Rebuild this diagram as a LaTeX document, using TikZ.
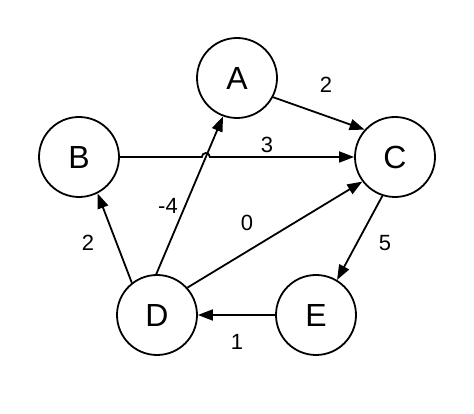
\documentclass[tikz,border=0pt]{standalone}
\usepackage{fontspec}
\setmainfont{Liberation Sans}
\usetikzlibrary{arrows.meta,calc}
\begin{document}
\begin{tikzpicture}[x=1pt,y=1pt,
  vertex/.style={circle,draw=black,line width=1.8pt,minimum size=80pt,inner sep=0pt,font=\fontsize{32}{32}\selectfont},
  edge/.style={line width=1.8pt,-{Triangle[length=15pt,width=11pt]}},
  wlabel/.style={font=\fontsize{22}{22}\selectfont,inner sep=0pt}]
\useasboundingbox (0,0) rectangle (474,414);
\node[vertex] (A) at (237,336) {A};
\node[vertex] (B) at (79,257) {B};
\node[vertex] (C) at (395,257) {C};
\node[vertex] (D) at (157,99) {D};
\node[vertex] (E) at (316,99) {E};
\coordinate (hop) at (intersection of D.91--A.250 and B.east--C.west);
\draw[edge] (A.332) -- (C.138);
\draw[edge] (B.east) -- ([xshift=-4pt]hop) arc[start angle=180,end angle=0,radius=4pt] -- (C.west);
\draw[edge] (D.91) -- (A.250);
\draw[edge] (D.128) -- (B.297);
\draw[edge] (D.42) -- (C.217);
\draw[edge] (C.252) -- (E.59);
\draw[edge] (E.west) -- (D.east);
\node[wlabel] (l1) at (326,329) {2};
\node[wlabel] (l2) at (267,269) {3};
\node[wlabel] (l3) at (168,208) {-4};
\node[wlabel] (l4) at (247,191) {0};
\node[wlabel] (l5) at (385,171) {5};
\node[wlabel] (l6) at (88,171) {2};
\node[wlabel] (l7) at (237,72) {1};
\end{tikzpicture}
\end{document}
